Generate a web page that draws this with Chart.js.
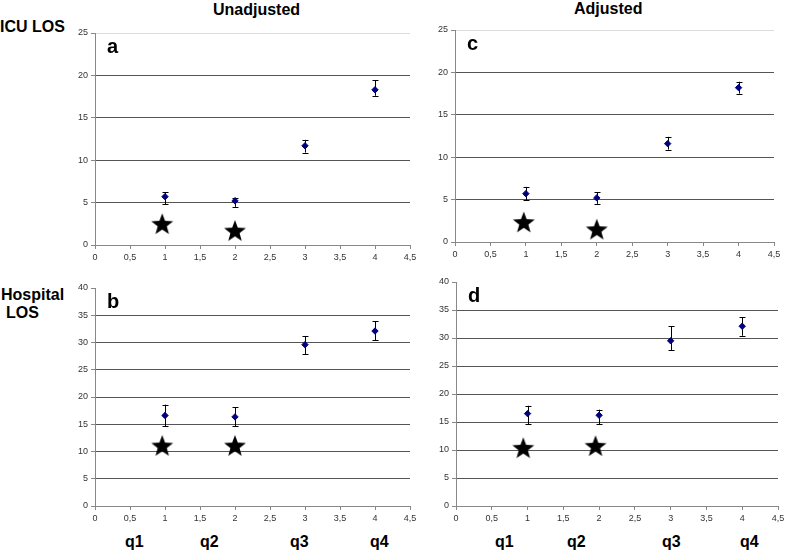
<!DOCTYPE html>
<html>
<head>
<meta charset="utf-8">
<script src="https://cdn.jsdelivr.net/npm/chart.js@4.4.1/dist/chart.umd.min.js"></script>
<style>
  html, body { margin: 0; padding: 0; background: #fff; }
  body { width: 785px; height: 553px; position: relative; overflow: hidden; font-family: "Liberation Sans", Arial, sans-serif; }
  canvas { position: absolute; }
  .lbl { position: absolute; font-weight: bold; color: #000; white-space: nowrap; line-height: 1; }
</style>
</head>
<body>
<div class="lbl" style="left:213px;top:2px;font-size:16px;">Unadjusted</div>
<div class="lbl" style="left:574px;top:1px;font-size:16px;">Adjusted</div>
<div class="lbl" style="left:0px;top:19px;font-size:16px;">ICU LOS</div>
<div class="lbl" style="left:1px;top:287px;font-size:16px;">Hospital</div>
<div class="lbl" style="left:6px;top:305px;font-size:16px;">LOS</div>
<div class="lbl" style="left:125px;top:534px;font-size:16px;">q1</div>
<div class="lbl" style="left:200px;top:534px;font-size:16px;">q2</div>
<div class="lbl" style="left:290px;top:534px;font-size:16px;">q3</div>
<div class="lbl" style="left:370px;top:534px;font-size:16px;">q4</div>
<div class="lbl" style="left:495px;top:534px;font-size:16px;">q1</div>
<div class="lbl" style="left:567px;top:534px;font-size:16px;">q2</div>
<div class="lbl" style="left:662px;top:534px;font-size:16px;">q3</div>
<div class="lbl" style="left:740px;top:534px;font-size:16px;">q4</div>
<canvas id="ca"></canvas>
<canvas id="cb"></canvas>
<canvas id="cc"></canvas>
<canvas id="cd"></canvas>
<script>
// ---- data ----
const quartiles = [1, 2, 3, 4];
const xTickLabels = ['0', '0,5', '1', '1,5', '2', '2,5', '3', '3,5', '4', '4,5'];
const icuTicks = [0, 5, 10, 15, 20, 25];
const hospTicks = [0, 5, 10, 15, 20, 25, 30, 35, 40];

// a: ICU LOS unadjusted
const aMean = [5.7, 5.2, 11.7, 18.3];
const aLow  = [4.8, 4.5, 10.9, 17.6];
const aHigh = [6.2, 5.6, 12.4, 19.4];
const aStarX = [0.96, 2.0];
const aStarY = [2.5, 1.7];

// c: ICU LOS adjusted
const cMean = [5.7, 5.2, 11.6, 18.2];
const cLow  = [4.9, 4.5, 10.9, 17.5];
const cHigh = [6.5, 5.9, 12.4, 18.9];
const cStarX = [0.97, 2.0];
const cStarY = [2.35, 1.5];

// b: Hospital LOS unadjusted
const bMean = [16.6, 16.35, 29.6, 32.1];
const bLow  = [14.6, 14.6, 27.9, 30.4];
const bHigh = [18.6, 18.1, 31.2, 33.9];
const bStarX = [0.96, 2.0];
const bStarY = [11.1, 11.1];

// d: Hospital LOS adjusted
const dMean = [16.5, 16.2, 29.5, 32.1];
const dLow  = [14.6, 14.6, 27.8, 30.4];
const dHigh = [17.9, 17.2, 32.1, 33.7];
const dStarX = [0.94, 1.95];
const dStarY = [10.4, 10.75];

// ---- star marker image ----
function makeStar() {
  const s = 26, c = document.createElement('canvas');
  c.width = s; c.height = s;
  const g = c.getContext('2d');
  const cx = s / 2, cy = s / 2 + 1, ro = 11.5, ri = 4.8;
  g.beginPath();
  for (let i = 0; i < 10; i++) {
    const r = i % 2 === 0 ? ro : ri;
    const ang = -Math.PI / 2 + i * Math.PI / 5;
    const px = cx + r * Math.cos(ang), py = cy + r * Math.sin(ang);
    if (i === 0) g.moveTo(px, py); else g.lineTo(px, py);
  }
  g.closePath();
  g.fillStyle = '#000';
  g.fill();
  return c;
}
const starImg = makeStar();

// ---- error bar plugin ----
const errorBars = {
  id: 'errorBars',
  beforeDatasetsDraw(chart) {
    const ds = chart.data.datasets[0];
    if (!ds.errLow) return;
    const xs = chart.scales.x, ys = chart.scales.y, ctx = chart.ctx;
    ctx.save();
    ctx.strokeStyle = '#000';
    ctx.lineWidth = 1;
    ds.data.forEach((p, i) => {
      const x = Math.round(xs.getPixelForValue(p.x)) + 0.5;
      const y1 = ys.getPixelForValue(ds.errLow[i]);
      const y2 = ys.getPixelForValue(ds.errHigh[i]);
      ctx.beginPath();
      ctx.moveTo(x, y1); ctx.lineTo(x, y2);
      ctx.moveTo(x - 3, Math.round(y1) + 0.5); ctx.lineTo(x + 3, Math.round(y1) + 0.5);
      ctx.moveTo(x - 3, Math.round(y2) + 0.5); ctx.lineTo(x + 3, Math.round(y2) + 0.5);
      ctx.stroke();
    });
    ctx.restore();
  }
};

// ---- panel label plugin ----
const panelLetter = {
  id: 'panelLetter',
  afterDraw(chart, args, opts) {
    const ctx = chart.ctx, a = chart.chartArea;
    ctx.save();
    ctx.font = 'bold 20px "Liberation Sans", Arial, sans-serif';
    ctx.fillStyle = '#000';
    ctx.textBaseline = 'middle';
    ctx.fillText(opts.text, a.left + opts.dx, a.top + opts.dy);
    ctx.restore();
  }
};

const PADL = 40, PADT = 15, PADR = 16, XH = 22;

function makePanel(id, area, yTicks, mean, low, high, starX, starY, letter, topLine) {
  const cv = document.getElementById(id);
  const w = (area.R - area.L) + PADL + PADR;
  const h = (area.B - area.T) + PADT + XH;
  cv.style.left = (area.L - PADL) + 'px';
  cv.style.top = (area.T - PADT) + 'px';
  cv.style.width = w + 'px';
  cv.style.height = h + 'px';
  cv.width = w; cv.height = h;
  const ymax = yTicks[yTicks.length - 1];
  new Chart(cv, {
    type: 'scatter',
    data: {
      datasets: [
        {
          data: quartiles.map((q, i) => ({ x: q, y: mean[i] })),
          errLow: low, errHigh: high,
          pointStyle: 'rectRot', pointRadius: 3.2, pointHoverRadius: 3.2,
          backgroundColor: '#000080', borderColor: '#000080', borderWidth: 1
        },
        {
          data: starX.map((x, i) => ({ x: x, y: starY[i] })),
          pointStyle: starImg, pointRadius: 12
        }
      ]
    },
    options: {
      responsive: false, animation: false, devicePixelRatio: 1,
      layout: { padding: { top: PADT, right: PADR, left: 0, bottom: 0 } },
      plugins: {
        legend: { display: false }, tooltip: { enabled: false },
        panelLetter: { text: letter, dx: 12, dy: 14 }
      },
      scales: {
        x: {
          type: 'linear', min: 0, max: 4.5,
          afterBuildTicks: s => { s.ticks = xTickLabels.map((t, i) => ({ value: i * 0.5 })); },
          afterFit: s => { s.height = XH; },
          ticks: {
            autoSkip: false, maxRotation: 0, padding: 3,
            font: { size: 9, family: '"Liberation Sans", Arial, sans-serif' }, color: '#333',
            callback: (v, i) => xTickLabels[i]
          },
          grid: { drawOnChartArea: false, drawTicks: true, tickLength: 4, color: '#888' },
          border: { display: true, color: '#888', width: 1 }
        },
        y: {
          type: 'linear', min: 0, max: ymax,
          afterBuildTicks: s => { s.ticks = yTicks.map(v => ({ value: v })); },
          afterFit: s => { s.width = PADL; },
          ticks: {
            autoSkip: false, padding: 3,
            font: { size: 9, family: '"Liberation Sans", Arial, sans-serif' }, color: '#333',
            callback: v => String(v)
          },
          grid: {
            drawTicks: true, tickLength: 4,
            color: c => (c.tick && c.tick.value === ymax) ? topLine : (c.tick && c.tick.value === 0 ? '#888' : '#555'),
            tickColor: '#888',
            lineWidth: 1
          },
          border: { display: true, color: '#888', width: 1 }
        }
      }
    },
    plugins: [errorBars, panelLetter]
  });
}

makePanel('ca', { L: 95, R: 410, T: 33, B: 245 }, icuTicks, aMean, aLow, aHigh, aStarX, aStarY, 'a', '#dcdcdc');
makePanel('cc', { L: 455, R: 774, T: 30, B: 242 }, icuTicks, cMean, cLow, cHigh, cStarX, cStarY, 'c', '#dcdcdc');
makePanel('cb', { L: 95, R: 410, T: 288, B: 506 }, hospTicks, bMean, bLow, bHigh, bStarX, bStarY, 'b', 'rgba(0,0,0,0)');
makePanel('cd', { L: 456, R: 778, T: 282, B: 506 }, hospTicks, dMean, dLow, dHigh, dStarX, dStarY, 'd', 'rgba(0,0,0,0)');
</script>
</body>
</html>
